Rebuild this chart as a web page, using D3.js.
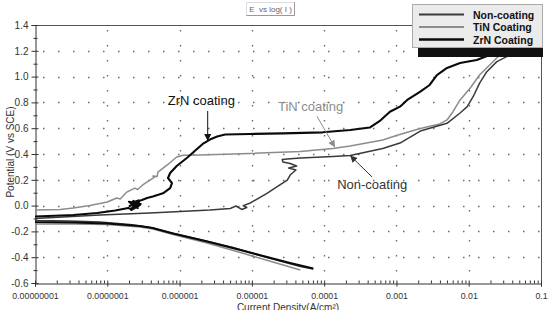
<!DOCTYPE html>
<html><head><meta charset="utf-8">
<script src="https://cdn.jsdelivr.net/npm/d3@7"></script>
<style>
html,body{margin:0;padding:0;background:#fff;}
svg{display:block;font-family:"Liberation Sans",Arial,Helvetica,sans-serif;}
</style></head><body>
<svg id="c" width="553" height="310"></svg>
<script>
// ---------- data ----------
const seriesNames = ["Non-coating", "TiN Coating", "ZrN Coating"];
const xTickValues = [1e-8, 1e-7, 1e-6, 1e-5, 1e-4, 1e-3, 1e-2, 1e-1];
const xTickLabels = ["0.00000001", "0.0000001", "0.000001", "0.00001", "0.0001", "0.001", "0.01", "0.1"];
const yTickValues = [-0.6, -0.4, -0.2, 0, 0.2, 0.4, 0.6, 0.8, 1.0, 1.2, 1.4];
const yTickLabels = ["-0.6", "-0.4", "-0.2", "0.0", "0.2", "0.4", "0.6", "0.8", "1.0", "1.2", "1.4"];
const titleText = "E  vs log( I )";
const xLabel = "Current Density(A/cm²)";
const yLabel = "Potential (V vs SCE)";

// [current density (A/cm2), potential (V vs SCE)]
const nonCoating = [
[7.08e-5,-0.491],[4.68e-5,-0.472],[1.62e-5,-0.402],[5.50e-6,-0.325],[1.91e-6,-0.263],[6.76e-7,-0.205],[3.89e-7,-0.170],[2.04e-7,-0.147],[7.94e-8,-0.127],[3.02e-8,-0.119],[1.0e-8,-0.116],
[3.0e-9,-0.105],
[1.0e-8,-0.100],[7.94e-8,-0.073],[3.89e-7,-0.057],[1.02e-6,-0.046],[2.63e-6,-0.034],[5.01e-6,-0.022],[6.03e-6,-0.003],[7.24e-6,-0.030],[8.51e-6,-0.015],[7.59e-6,0.000],[9.33e-6,0.018],[1.62e-5,0.095],[2.24e-5,0.147],[3.09e-5,0.198],[3.39e-5,0.237],[4.07e-5,0.276],[3.24e-5,0.291],[4.17e-5,0.307],[3.39e-5,0.326],[2.69e-5,0.338],[2.63e-5,0.357],[3.09e-5,0.361],[4.68e-5,0.369],[7.94e-5,0.374],[1.32e-4,0.381],[2.29e-4,0.388],[6.46e-4,0.443],[1.12e-3,0.485],[2.14e-3,0.578],[5.01e-3,0.638],[7.59e-3,0.718],[9.55e-3,0.767],[1.15e-2,0.844],[1.41e-2,0.948],[1.78e-2,1.038],[2.45e-2,1.116],[3.72e-2,1.167],[5.13e-2,1.206],[7.08e-2,1.260],[1.0e-1,1.307]
];
const tinCoating = [
[4.68e-5,-0.499],[1.95e-5,-0.437],[6.92e-6,-0.364],[2.40e-6,-0.290],[8.13e-7,-0.224],[4.27e-7,-0.181],[2.82e-7,-0.166],[1.0e-7,-0.147],[3.39e-8,-0.143],[1.0e-8,-0.143],
[3.0e-9,-0.090],
[1.0e-8,-0.034],[2.24e-8,-0.030],[3.39e-8,-0.019],[5.75e-8,0.000],[1.0e-7,0.028],[1.35e-7,0.059],[1.51e-7,0.051],[1.86e-7,0.105],[2.40e-7,0.136],[2.63e-7,0.125],[3.09e-7,0.160],[3.89e-7,0.198],[4.57e-7,0.222],[4.27e-7,0.229],[4.90e-7,0.226],[5.01e-7,0.260],[6.76e-7,0.315],[9.12e-7,0.377],[1.12e-6,0.390],[1.91e-6,0.392],[9.33e-6,0.404],[4.68e-5,0.419],[1.32e-4,0.443],[2.29e-4,0.462],[6.46e-4,0.509],[1.05e-3,0.547],[2.14e-3,0.598],[3.98e-3,0.633],[5.01e-3,0.664],[6.03e-3,0.726],[7.59e-3,0.819],[1.05e-2,0.912],[1.41e-2,1.012],[1.95e-2,1.090],[2.69e-2,1.167],[3.72e-2,1.222],[6.03e-2,1.299],[1.0e-1,1.353]
];
const zrnCoating = [
[7.08e-5,-0.488],[3.39e-5,-0.445],[1.62e-5,-0.398],[6.92e-6,-0.344],[2.40e-6,-0.278],[8.13e-7,-0.216],[4.27e-7,-0.174],[2.82e-7,-0.158],[1.0e-7,-0.139],[3.39e-8,-0.131],[1.0e-8,-0.127],
[3.0e-9,-0.110],
[1.0e-8,-0.084],[3.39e-8,-0.073],[7.24e-8,-0.057],[1.29e-7,-0.038],[1.95e-7,-0.019],
[2.14e-7,-0.026],[2.57e-7,0.020],[2.04e-7,-0.003],[2.75e-7,0.028],[2.14e-7,-0.034],[2.82e-7,0.004],[2.29e-7,0.036],[2.63e-7,-0.019],[2.0e-7,0.030],[2.9e-7,0.012],[2.2e-7,0.010],[2.7e-7,0.040],[2.1e-7,0.018],[3.02e-7,0.043],
[3.55e-7,0.059],[4.27e-7,0.071],[5.89e-7,0.095],[7.41e-7,0.136],[7.85e-7,0.175],[6.92e-7,0.214],[7.41e-7,0.253],[9.12e-7,0.307],[1.26e-6,0.369],[1.62e-6,0.423],[2.09e-6,0.478],[2.63e-6,0.512],[3.31e-6,0.536],[4.27e-6,0.551],[9.33e-6,0.555],[2.69e-5,0.560],[9.55e-5,0.568],[2.29e-4,0.586],[4.27e-4,0.605],[5.89e-4,0.656],[8.13e-4,0.728],[1.12e-3,0.767],[1.41e-3,0.819],[2.14e-3,0.883],[2.88e-3,0.935],[3.63e-3,1.012],[5.01e-3,1.067],[7.59e-3,1.105],[1.29e-2,1.129],[1.95e-2,1.167],[3.72e-2,1.214],[1.0e-1,1.237]
];
// annotation labels and the curve point each arrow points to
const annotationTexts = ["ZrN coating", "TiN coating", "Non-coating"];
const annotationTargets = [[2.45e-6, 0.501], [1.41e-4, 0.452], [2.29e-4, 0.388]];

// ---------- layout / style ----------
const L = 35, R = 541, T = 25, B = 283;
const colors = ["#3a3a3a", "#8c8c8c", "#0a0a0a"];
const widths = [1.5, 1.5, 2.1];
const annColors = ["#111", "#8c8c8c", "#333"];
const annTail = [[0, -30], [-18, -31], [22, 21.5]];
const annText = [[-40, -36], [-57, -36], [-13, 33.5]];

const svg = d3.select("#c");
const x = d3.scaleLog().domain([1e-8, 0.1]).range([L, R]);
const y = d3.scaleLinear().domain([-0.6, 1.4]).range([B, T]);

// grid (sparse dots)
const grid = svg.append("g").attr("stroke", "#6a6a6a").attr("stroke-width", 1.4).attr("stroke-dasharray", "1.5,13.5");
grid.selectAll("line.h").data(yTickValues.slice(1, -1)).join("line")
  .attr("x1", L + 8).attr("x2", R).attr("y1", d => Math.round(y(d)) + 0.5).attr("y2", d => Math.round(y(d)) + 0.5);
grid.selectAll("line.v").data(xTickValues.slice(1, -1)).join("line")
  .attr("y1", T + 5).attr("y2", B).attr("x1", d => Math.round(x(d)) + 0.5).attr("x2", d => Math.round(x(d)) + 0.5);

// frame
svg.append("path").attr("d", `M${L},${T + 0.5}H${R + 0.5}V${B}`).attr("fill", "none").attr("stroke", "#555").attr("stroke-width", 1);

// axes
const axisColor = "#333";
const xAxis = svg.append("g").attr("transform", `translate(0,${B + 0.5})`)
  .call(d3.axisBottom(x).tickValues(xTickValues).tickFormat((d, i) => xTickLabels[i]).tickSize(3).tickPadding(6));
const minorX = [];
xTickValues.slice(0, -1).forEach(v => { for (let k = 2; k <= 9; k++) minorX.push(v * k); });
svg.append("g").attr("transform", `translate(0,${B + 0.5})`)
  .call(d3.axisBottom(x).tickValues(minorX).tickFormat("").tickSize(-3))
  .call(g => g.select(".domain").remove());
xAxis.selectAll(".tick line").attr("y1", -3);
xAxis.selectAll("text").attr("font-size", 8.8).attr("fill", axisColor).attr("font-family", "Liberation Sans, Arial, sans-serif");

const yAxis = svg.append("g").attr("transform", `translate(${L + 0.5},0)`)
  .call(d3.axisLeft(y).tickValues(yTickValues).tickFormat((d, i) => yTickLabels[i]).tickSize(4).tickPadding(3));
yAxis.selectAll(".tick line").attr("x1", 3);
yAxis.selectAll("text").attr("font-size", 10).attr("fill", axisColor).attr("font-family", "Liberation Sans, Arial, sans-serif");
const minorY = yTickValues.slice(0, -1).map(v => v + 0.1);
svg.append("g").attr("transform", `translate(${L + 0.5},0)`)
  .call(d3.axisLeft(y).tickValues(minorY).tickFormat("").tickSize(2))
  .call(g => g.select(".domain").remove())
  .call(g => g.selectAll(".tick line").attr("x1", 2));
svg.selectAll(".domain").attr("stroke", axisColor);
svg.selectAll(".tick line").attr("stroke", axisColor);

// axis titles
svg.append("text").attr("x", (L + R) / 2).attr("y", 311).attr("text-anchor", "middle")
  .attr("font-size", 10).attr("fill", "#333").text(xLabel);
svg.append("text").attr("transform", `translate(14,${(T + B) / 2 - 2}) rotate(-90)`).attr("text-anchor", "middle")
  .attr("font-size", 10).attr("fill", "#333").text(yLabel);

// title box
svg.append("rect").attr("x", 246.5).attr("y", 2.5).attr("width", 48).attr("height", 13).attr("fill", "#fff").attr("stroke", "#ddd");
svg.append("path").attr("d", "M246.5,15.5H294.5V2.5").attr("fill", "none").attr("stroke", "#999");
svg.append("text").attr("x", 270.5).attr("y", 12).attr("text-anchor", "middle").attr("font-size", 8)
  .attr("fill", "#666").attr("xml:space", "preserve").text(titleText);

// curves
svg.append("clipPath").attr("id", "clip").append("rect").attr("x", L).attr("y", T).attr("width", R - L).attr("height", B - T);
const line = d3.line().x(d => x(d[0])).y(d => y(d[1]));
const allSeries = [nonCoating, tinCoating, zrnCoating];
const order = [1, 0, 2];
const cg = svg.append("g").attr("clip-path", "url(#clip)");
order.forEach(i => {
  cg.append("path").datum(allSeries[i]).attr("d", line).attr("fill", "none")
    .attr("stroke", colors[i]).attr("stroke-width", widths[i]).attr("stroke-linejoin", "round");
});

// annotations
const defs = svg.append("defs");
annColors.forEach((c, i) => {
  defs.append("marker").attr("id", "ah" + i).attr("viewBox", "0 0 10 10").attr("refX", 10).attr("refY", 5)
    .attr("markerWidth", 7).attr("markerHeight", 7).attr("markerUnits", "userSpaceOnUse").attr("orient", "auto")
    .append("path").attr("d", "M0,0L10,5L0,10z").attr("fill", c);
});
annotationTexts.forEach((t, i) => {
  const hx = x(annotationTargets[i][0]), hy = y(annotationTargets[i][1]);
  svg.append("line").attr("x1", hx + annTail[i][0]).attr("y1", hy + annTail[i][1]).attr("x2", hx).attr("y2", hy)
    .attr("stroke", annColors[i]).attr("stroke-width", 1).attr("marker-end", `url(#ah${i})`);
  svg.append("text").attr("x", hx + annText[i][0]).attr("y", hy + annText[i][1]).attr("font-size", 13)
    .attr("fill", annColors[i]).text(t);
});

// legend
const lg = svg.append("g");
lg.append("rect").attr("x", 418).attr("y", 47).attr("width", 125).attr("height", 10).attr("fill", "#111");
lg.append("rect").attr("x", 412.5).attr("y", 4.5).attr("width", 130).attr("height", 43).attr("fill", "#ebebeb").attr("stroke", "#aaa");
seriesNames.forEach((n, i) => {
  const yy = 14.5 + i * 12.5;
  lg.append("line").attr("x1", 419).attr("x2", 464).attr("y1", yy).attr("y2", yy)
    .attr("stroke", colors[i]).attr("stroke-width", i === 2 ? 2.4 : 2);
  lg.append("text").attr("x", 473).attr("y", yy + 4).attr("font-size", 10.5).attr("font-weight", "bold")
    .attr("fill", "#111").text(n);
});
</script>
</body></html>
